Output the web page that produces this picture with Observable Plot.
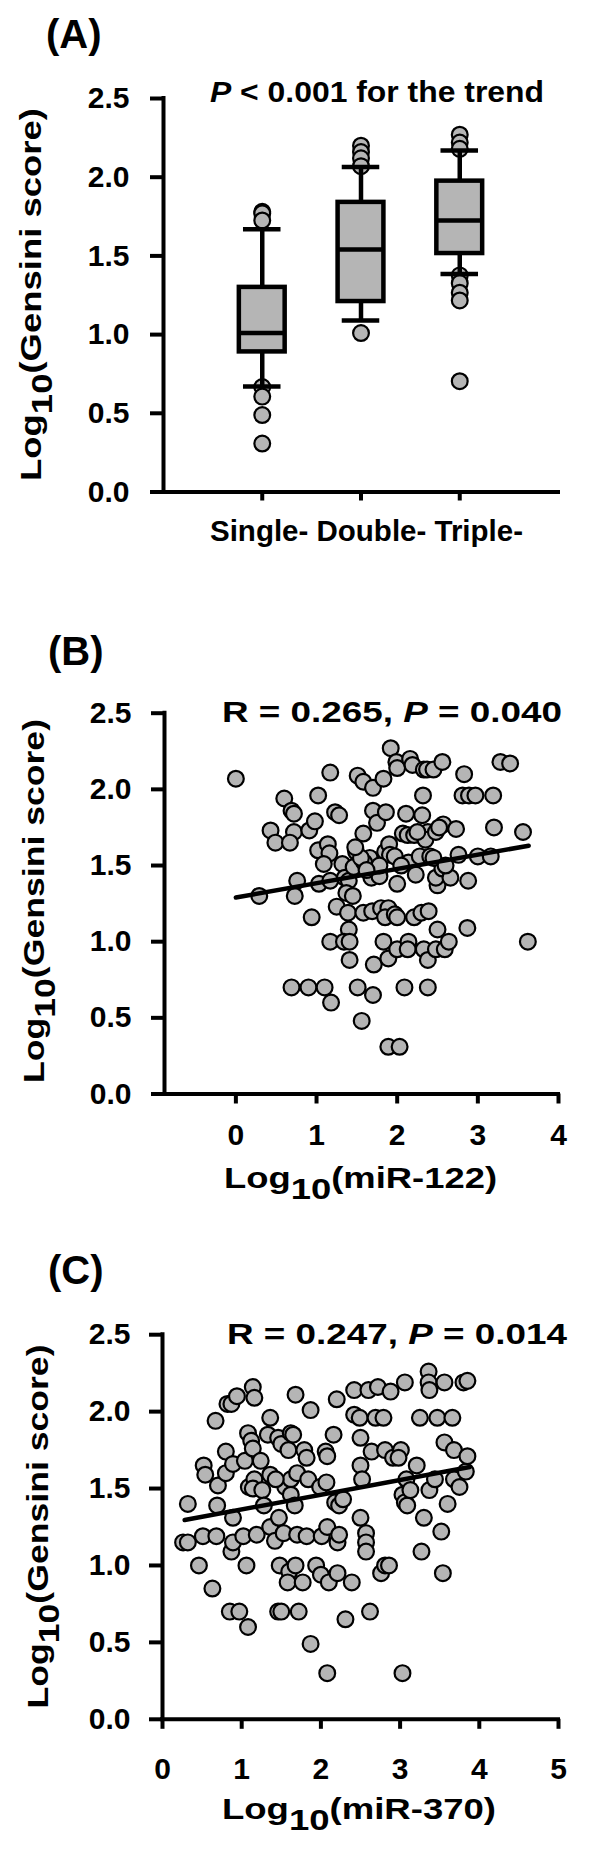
<!DOCTYPE html>
<html><head><meta charset="utf-8">
<script src="https://cdn.jsdelivr.net/npm/d3@7"></script>
<script src="https://cdn.jsdelivr.net/npm/@observablehq/plot@0.6"></script>
<style>
body{margin:0;background:#fff;}
#wrap{position:relative;width:600px;height:1854px;background:#fff;}
#wrap svg{position:absolute;left:0;}
</style></head><body><div id="wrap"></div>
<script>
// ---------- Panel A data (box plots) ----------
const vesselGroups = ["Single-", "Double-", "Triple-"];
const boxQ1       = [0.89, 1.21, 1.515];
const boxMedian   = [1.01, 1.54, 1.725];
const boxQ3       = [1.30, 1.84, 1.975];
const whiskerLow  = [0.67, 1.09, 1.385];
const whiskerHigh = [1.67, 2.065, 2.17];
const outlierGroup = ["Single-","Single-","Single-","Single-","Single-","Single-","Single-",
  "Double-","Double-","Double-","Double-","Double-",
  "Triple-","Triple-","Triple-","Triple-","Triple-","Triple-","Triple-","Triple-"];
const outlierValue = [1.78,1.77,1.725,0.667,0.606,0.489,0.308,
  2.20,2.16,2.12,2.07,1.01,
  2.27,2.22,2.18,1.376,1.327,1.266,1.217,0.704];
const trendText = " < 0.001 for the trend";

// ---------- Panel B data ----------
const miR122 = [
 0.00,0.29,0.43,0.49,0.60,0.69,0.72,0.72,0.67,0.76,
 0.73,0.69,0.90,0.91,0.98,1.02,0.94,1.02,1.03,1.10,
 1.17,1.14,1.16,1.09,1.17,1.18,1.17,1.23,1.28,1.25,
 1.32,1.35,1.40,1.37,1.45,1.39,1.40,1.34,1.41,1.41,
 1.46,1.49,1.51,1.58,1.58,1.58,1.51,1.56,1.66,1.68,
 1.70,1.70,1.75,1.69,1.71,1.70,1.83,1.86,1.78,1.85,
 1.90,1.91,1.80,1.89,1.85,1.83,1.89,1.92,1.99,2.00,
 1.97,2.00,1.97,2.00,1.89,2.03,2.00,2.09,2.11,2.07,
 2.13,2.16,2.19,2.14,2.14,2.13,2.21,2.21,2.28,2.31,
 2.32,2.33,2.37,2.38,2.35,2.41,2.30,2.39,2.33,2.38,
 2.38,2.50,2.48,2.48,2.45,2.56,2.57,2.56,2.50,2.48,
 2.59,2.64,2.66,2.73,2.76,2.83,2.81,2.89,2.97,2.88,
 2.87,3.00,3.19,3.20,3.16,3.28,3.40,3.56,3.62,2.23,
 1.59,1.78,1.55,1.62,2.05,2.45,2.60,1.48,2.52,2.25];
const gensiniB = [
 2.07,1.30,1.73,1.65,1.94,1.86,1.84,1.72,1.65,1.40,
 1.30,0.70,0.70,1.73,1.79,1.96,1.16,1.60,1.38,0.70,
 2.11,1.64,1.58,1.51,1.40,0.60,1.00,1.85,1.83,1.23,
 1.51,1.42,1.40,1.32,1.30,1.19,1.08,1.00,1.00,0.88,
 1.49,1.59,2.09,2.05,1.71,1.19,0.70,0.48,1.55,1.42,
 2.01,1.86,1.78,1.20,0.85,0.65,2.07,1.85,1.43,1.59,
 1.64,1.57,1.22,1.22,1.16,1.00,0.89,2.27,2.18,2.14,
 1.56,1.38,1.18,1.16,0.31,0.31,0.95,0.70,1.84,1.71,
 1.70,2.20,2.16,1.52,1.00,0.95,1.16,1.70,1.56,1.83,
 1.96,2.13,2.13,1.72,1.67,1.56,1.19,1.20,0.95,0.88,
 0.70,1.37,1.42,1.72,2.13,2.18,1.77,1.48,1.08,0.95,
 0.95,1.00,1.42,1.74,1.57,2.10,1.96,1.96,1.96,1.40,
 1.09,1.56,1.96,1.75,1.56,2.18,2.17,1.72,1.00,1.44,
 1.52,1.50,1.55,1.47,1.50,1.55,1.50,1.62,1.75,1.72];
const fitBx = [0, 3.63];
const fitBy = [1.29, 1.63];

// ---------- Panel C data ----------
const miR370 = [
 0.26,0.32,0.32,0.46,0.51,0.52,0.54,0.63,0.67,0.68,
 0.69,0.70,0.80,0.80,0.82,0.87,0.94,0.89,0.89,0.87,
 0.89,0.85,0.97,1.08,1.02,1.06,1.04,1.08,1.12,1.09,
 1.14,1.16,1.14,1.16,1.14,1.24,1.26,1.28,1.19,1.33,
 1.36,1.36,1.36,1.42,1.47,1.46,1.50,1.48,1.46,1.50,
 1.53,1.55,1.59,1.62,1.65,1.60,1.58,1.68,1.62,1.62,
 1.67,1.70,1.68,1.70,1.72,1.77,1.79,1.82,1.87,1.84,
 1.82,1.87,1.94,1.99,2.01,2.00,2.06,2.07,2.08,2.08,
 2.10,2.08,2.16,2.20,2.18,2.23,2.21,2.23,2.21,2.28,
 2.31,2.39,2.42,2.42,2.49,2.50,2.50,2.52,2.50,2.57,
 2.57,2.57,2.60,2.62,2.64,2.72,2.69,2.79,2.76,2.81,
 2.86,2.81,2.88,2.91,3.01,2.98,3.03,3.06,3.09,3.06,
 3.03,3.08,3.13,3.21,3.25,3.27,3.30,3.36,3.36,3.37,
 3.37,3.44,3.47,3.52,3.54,3.56,3.56,3.60,3.66,3.68,
 3.68,3.75,3.80,3.85,3.83,3.85,1.43];
const gensiniC = [
 1.15,1.15,1.40,1.00,1.19,1.65,1.59,0.85,1.94,1.19,
 1.39,1.52,1.74,1.60,2.05,2.05,2.10,1.66,1.31,1.09,
 1.15,0.70,0.70,0.60,1.19,1.00,1.68,1.86,1.81,1.51,
 2.16,2.09,1.76,1.56,1.50,1.68,1.49,1.39,1.20,1.85,
 1.96,1.59,1.25,1.16,1.31,1.83,1.79,1.00,0.70,0.70,
 1.21,1.51,1.75,1.86,1.85,0.96,0.89,1.00,1.56,1.46,
 1.39,1.60,2.11,1.20,0.70,0.89,1.75,1.70,2.01,1.56,
 1.19,0.49,1.00,1.51,1.19,0.94,1.74,1.54,1.71,1.25,
 0.89,0.30,1.85,2.08,1.41,1.39,1.15,1.20,0.95,1.43,
 0.65,0.89,2.14,1.98,1.96,1.83,1.65,1.56,1.31,1.21,
 1.15,1.09,2.14,0.70,1.74,2.16,1.96,1.96,0.95,1.00,
 1.00,1.75,2.13,1.70,1.75,1.70,1.46,1.41,1.39,2.19,
 0.30,1.56,1.49,1.65,1.96,1.09,1.31,2.26,2.19,2.14,
 1.49,1.56,1.96,1.22,0.95,2.19,1.80,1.40,1.96,1.75,
 1.56,1.51,2.19,2.20,1.61,1.71,1.56];
const fitCx = [0.28, 3.88];
const fitCy = [1.295, 1.64];

const yTicks = [0, 0.5, 1.0, 1.5, 2.0, 2.5];

// ---------- styling ----------
const FONT = '"Liberation Sans", Arial, Helvetica, sans-serif';
const GRAY = "#b5b5b5";
const baseStyle = {fontFamily: FONT, fontSize: "30px", fontWeight: "bold", color: "#000", background: "#fff"};
const dotOpts = {r: 7.9, fill: GRAY, stroke: "#000", strokeWidth: 2.2};
const wrap = document.getElementById("wrap");

function place(svgEl, top) {
  svgEl.style.top = top + "px";
  wrap.appendChild(svgEl);
  return d3.select(svgEl);
}
function addText(svg, o) {
  const t = svg.append("text")
    .attr("transform", `translate(${o.x},${o.y})` + (o.rotate ? ` rotate(${o.rotate})` : ""))
    .attr("text-anchor", o.anchor || "start")
    .attr("fill", "#000")
    .style("font-family", FONT).style("font-size", o.size + "px").style("font-weight", "bold");
  if (o.length) t.attr("textLength", o.length).attr("lengthAdjust", "spacingAndGlyphs");
  for (const p of o.parts) {
    const s = t.append("tspan").text(p.text);
    if (p.italic) s.style("font-style", "italic");
    if (p.dy) s.attr("dy", p.dy);
  }
}
const logParts = (rest) => [{text: "Log"}, {text: "10", dy: 11}, {text: rest, dy: -11}];
const axisRule = {strokeWidth: 4, strokeLinecap: "square"};

// ---------- Panel A ----------
const HALF = 0.232, CAP = 0.19;
const boxData = vesselGroups.map((g, i) => ({
  i: i + 1, q1: boxQ1[i], med: boxMedian[i], q3: boxQ3[i], lo: whiskerLow[i], hi: whiskerHigh[i]
}));
const outData = outlierValue.map((v, k) => ({i: vesselGroups.indexOf(outlierGroup[k]) + 1, v}));

const plotA = Plot.plot({
  width: 600, height: 600,
  marginLeft: 163, marginRight: 42, marginTop: 98, marginBottom: 108.5,
  style: baseStyle,
  x: {domain: [0, 4]},
  y: {domain: [0, 2.5]},
  marks: [
    Plot.dot(outData, {x: "i", y: "v", ...dotOpts}),
    Plot.ruleX(boxData, {x: "i", y1: "q3", y2: "hi", strokeWidth: 4.5}),
    Plot.ruleX(boxData, {x: "i", y1: "lo", y2: "q1", strokeWidth: 4.5}),
    Plot.ruleY(boxData, {y: "hi", x1: d => d.i - CAP, x2: d => d.i + CAP, strokeWidth: 4.5}),
    Plot.ruleY(boxData, {y: "lo", x1: d => d.i - CAP, x2: d => d.i + CAP, strokeWidth: 4.5}),
    Plot.rect(boxData, {x1: d => d.i - HALF, x2: d => d.i + HALF, y1: "q1", y2: "q3", fill: GRAY, stroke: "#000", strokeWidth: 4.5}),
    Plot.ruleY(boxData, {y: "med", x1: d => d.i - HALF, x2: d => d.i + HALF, strokeWidth: 4.5}),
    Plot.ruleY([0], axisRule),
    Plot.ruleX([0], {y1: 0, y2: 2.5, ...axisRule}),
    Plot.axisY({ticks: yTicks, tickFormat: d3.format(".1f"), tickSize: 13, tickPadding: 21, strokeWidth: 4, label: null}),
    Plot.axisX({ticks: [1, 2, 3], tickFormat: () => "", tickSize: 9, strokeWidth: 4, label: null})
  ]
});
const sA = place(plotA, 0);
addText(sA, {x: 46, y: 48, size: 40, parts: [{text: "(A)"}]});
addText(sA, {x: 210, y: 102, size: 30, length: 334, parts: [{text: "P", italic: true}, {text: trendText}]});
addText(sA, {x: 41, y: 294.5, size: 30, rotate: -90, anchor: "middle", length: 373, parts: logParts("(Gensini score)")});
addText(sA, {x: 366.5, y: 541, size: 30, anchor: "middle", length: 313, parts: [{text: vesselGroups.join(" ")}]});

// ---------- Panel B ----------
const ptsB = miR122.map((x, k) => ({x, y: gensiniB[k]}));
const lineB = fitBx.map((x, k) => ({x, y: fitBy[k]}));
const xMinB = -0.885;
const plotB = Plot.plot({
  width: 600, height: 620,
  marginLeft: 164, marginRight: 42, marginTop: 112.7, marginBottom: 126.5,
  style: baseStyle,
  x: {domain: [xMinB, 4]},
  y: {domain: [0, 2.5]},
  marks: [
    Plot.dot(ptsB, {x: "x", y: "y", ...dotOpts}),
    Plot.line(lineB, {x: "x", y: "y", stroke: "#000", strokeWidth: 4.5}),
    Plot.ruleY([0], axisRule),
    Plot.ruleX([xMinB], {y1: 0, y2: 2.5, ...axisRule}),
    Plot.axisY({ticks: yTicks, tickFormat: d3.format(".1f"), tickSize: 13, tickPadding: 20, strokeWidth: 4, label: null}),
    Plot.axisX({ticks: [0, 1, 2, 3, 4], tickFormat: d3.format("d"), tickSize: 10, tickPadding: 20, strokeWidth: 4, label: null})
  ]
});
const sB = place(plotB, 600);
addText(sB, {x: 48, y: 65, size: 40, parts: [{text: "(B)"}]});
addText(sB, {x: 222, y: 122, size: 30, length: 340, parts: [{text: "R = 0.265, "}, {text: "P", italic: true}, {text: " = 0.040"}]});
addText(sB, {x: 44, y: 301, size: 30, rotate: -90, anchor: "middle", length: 364, parts: logParts("(Gensini score)")});
addText(sB, {x: 360.5, y: 588, size: 30, anchor: "middle", length: 273, parts: logParts("(miR-122)")});

// ---------- Panel C ----------
const ptsC = miR370.map((x, k) => ({x, y: gensiniC[k]}));
const lineC = fitCx.map((x, k) => ({x, y: fitCy[k]}));
const plotC = Plot.plot({
  width: 600, height: 634,
  marginLeft: 162, marginRight: 42, marginTop: 114.2, marginBottom: 135.2,
  style: baseStyle,
  x: {domain: [0, 5]},
  y: {domain: [0, 2.5]},
  marks: [
    Plot.dot(ptsC, {x: "x", y: "y", ...dotOpts}),
    Plot.line(lineC, {x: "x", y: "y", stroke: "#000", strokeWidth: 4.5}),
    Plot.ruleY([0], axisRule),
    Plot.ruleX([0], {y1: 0, y2: 2.5, ...axisRule}),
    Plot.axisY({ticks: yTicks, tickFormat: d3.format(".1f"), tickSize: 13, tickPadding: 19, strokeWidth: 4, label: null}),
    Plot.axisX({ticks: [0, 1, 2, 3, 4, 5], tickFormat: d3.format("d"), tickSize: 10, tickPadding: 28, strokeWidth: 4, label: null})
  ]
});
const sC = place(plotC, 1220);
addText(sC, {x: 48, y: 64, size: 40, parts: [{text: "(C)"}]});
addText(sC, {x: 227, y: 124, size: 30, length: 340, parts: [{text: "R = 0.247, "}, {text: "P", italic: true}, {text: " = 0.014"}]});
addText(sC, {x: 48, y: 306.5, size: 30, rotate: -90, anchor: "middle", length: 364, parts: logParts("(Gensini score)")});
addText(sC, {x: 359, y: 599, size: 30, anchor: "middle", length: 274, parts: logParts("(miR-370)")});
</script>
</body></html>
